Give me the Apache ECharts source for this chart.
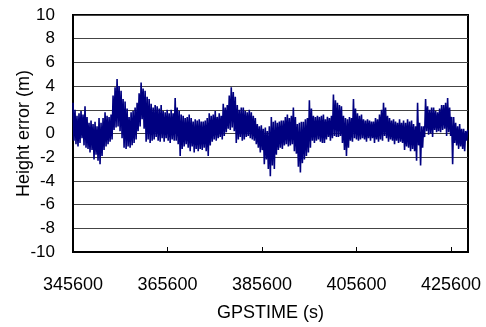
<!DOCTYPE html>
<html>
<head>
<meta charset="utf-8">
<script src="https://cdn.jsdelivr.net/npm/echarts@6/dist/echarts.min.js"></script>
<style>
  html, body { margin: 0; padding: 0; background: #fff; }
  #chart { width: 486px; height: 327px; }
</style>
</head>
<body>
<div id="chart"></div>
<script>
// height error samples (m), one every ~212 s
const startTime = 345600;
const timeStep = 212;
const heightError = [
  2.6, -0.6, 2.0, -0.9, 1.5, -1.1, 1.7, -0.8, 1.9, -0.4,
  1.6, -1.0, 2.3, -1.2, 1.4, -1.3, 0.9, -1.6, 1.1, -1.4,
  0.8, -2.2, 1.0, -1.8, 0.6, -2.3, 1.3, -2.6, 0.9, -1.9,
  1.3, -1.4, 1.8, -1.1, 1.5, -0.9, 1.4, -0.7, 1.6, -0.5,
  3.2, 0.3, 3.9, 0.5, 4.6, 0.6, 4.0, 0.2, 3.6, -0.4,
  2.9, -1.2, 2.7, -1.3, 2.1, -1.1, 1.4, -1.2, 1.8, -1.0,
  1.9, -0.8, 2.2, -0.5, 2.6, 0.2, 3.4, 0.6, 4.3, 1.2,
  3.8, 0.4, 3.6, -0.7, 3.1, -0.5, 2.9, -0.8, 2.5, -0.6,
  2.2, -0.5, 2.4, -0.3, 2.3, -0.6, 2.1, -0.7, 2.4, -0.4,
  1.9, -0.7, 1.8, -0.4, 2.0, -0.6, 1.7, -0.8, 2.0, -0.5,
  1.7, -0.6, 3.0, -0.6, 2.2, -0.9, 1.9, -1.9, 1.6, -1.3,
  1.5, -1.1, 1.3, -0.9, 1.4, -1.2, 1.6, -1.5, 1.3, -1.1,
  1.0, -1.6, 1.2, -1.3, 1.1, -1.5, 1.2, -1.3, 1.0, -1.4,
  1.0, -1.2, 1.1, -1.5, 1.3, -1.9, 1.7, -1.0, 1.5, -0.7,
  1.6, -0.5, 1.9, -0.6, 1.4, -0.4, 1.7, -0.3, 1.5, -0.5,
  2.5, -0.2, 2.2, 0.1, 2.4, 0.4, 3.2, 0.3, 3.9, 0.5,
  3.5, 0.2, 3.1, -0.8, 2.4, -0.5, 2.0, -0.3, 2.2, -0.6,
  2.2, -0.5, 1.9, -0.3, 1.8, -0.2, 2.0, -0.4, 1.8, -0.5,
  1.5, -0.6, 1.3, -0.9, 0.8, -1.2, 0.6, -1.6, 0.7, -1.4,
  0.4, -2.6, 0.5, -2.2, 0.2, -3.0, 0.6, -3.6, 1.4, -2.7,
  1.0, -3.0, 1.1, -1.8, 0.9, -1.4, 1.0, -1.2, 1.1, -1.3,
  1.1, -1.0, 1.4, -0.9, 1.6, -1.1, 1.3, -1.0, 1.5, -0.9,
  2.2, -1.5, 1.4, -1.7, 0.8, -2.8, 0.9, -3.3, 1.0, -2.5,
  1.0, -2.2, 1.2, -1.9, 1.3, -1.6, 2.8, -1.2, 2.1, -0.6,
  1.5, -0.8, 1.4, -0.6, 1.5, -0.5, 1.4, -0.7, 1.5, -0.8,
  1.6, -0.8, 1.2, -0.5, 1.4, -0.3, 1.3, -0.6, 1.5, -0.4,
  3.3, -0.2, 2.8, -0.3, 2.6, -0.3, 2.4, -0.2, 2.3, -0.8,
  1.5, -1.4, 1.3, -1.9, 1.2, -1.2, 1.4, -0.6, 1.3, -0.7,
  2.9, -0.4, 2.1, -0.5, 1.7, -0.6, 1.5, -0.5, 1.6, -0.4,
  1.2, -0.5, 1.1, -0.7, 1.2, -0.4, 1.1, -0.6, 1.0, -0.4,
  1.0, -0.8, 1.3, -0.5, 1.2, -0.7, 1.6, -0.5, 2.0, -0.6,
  2.6, -0.2, 2.2, -0.4, 1.5, -0.7, 1.3, -0.5, 1.1, -0.6,
  1.2, -0.9, 1.0, -0.6, 0.9, -0.8, 1.2, -0.7, 0.9, -0.8,
  1.1, -1.4, 0.9, -1.1, 1.2, -1.2, 1.0, -1.5, 1.1, -1.3,
  0.8, -1.5, 0.6, -2.3, 2.6, -1.0, 0.9, -2.7, 0.6, -1.2,
  0.6, -0.3, 2.9, 0.2, 2.3, -0.1, 2.0, 0.0, 2.2, -0.3,
  2.2, 0.3, 1.9, 0.1, 1.8, 0.2, 2.1, 0.1, 2.4, 0.3,
  2.4, 0.4, 2.6, -0.2, 3.0, 0.1, 2.2, -0.2, 1.4, -2.6,
  1.4, -0.8, 0.9, -1.0, 0.6, -1.3, 0.8, -1.1, 0.4, -1.3,
  0.4, -1.5, 0.2, -0.6, 0.3
];

const xLabelValues = [345600, 365600, 385600, 405600, 425600];
const xTickValues = [365600, 385600, 405600, 425600];
const yMin = -10;
const yMax = 10;
const yStep = 2;
const xMax = 429200;

const points = heightError.map((v, i) => [startTime + i * timeStep, v]);

const chart = echarts.init(document.getElementById('chart'));
const font = 'Liberation Sans, Arial, sans-serif';

chart.setOption({
  animation: false,
  grid: {
    left: 73, right: 18, top: 15, bottom: 75,
    outerBoundsMode: 'none',
    containLabel: false,
    show: true, borderColor: '#000', borderWidth: 2
  },
  xAxis: {
    type: 'value',
    min: startTime,
    max: xMax,
    name: 'GPSTIME (s)',
    nameLocation: 'middle',
    nameGap: 52,
    nameTextStyle: { fontFamily: font, fontSize: 18, color: '#000' },
    axisLine: { show: true, onZero: false, lineStyle: { color: '#000', width: 2 } },
    axisTick: {
      show: true, inside: true, length: 5,
      customValues: xTickValues,
      lineStyle: { color: '#000', width: 1 }
    },
    axisLabel: {
      customValues: xLabelValues,
      formatter: v => String(v),
      margin: 24,
      fontFamily: font, fontSize: 18, color: '#000'
    },
    splitLine: { show: false }
  },
  yAxis: {
    type: 'value',
    min: yMin,
    max: yMax,
    interval: yStep,
    name: 'Height error (m)',
    nameLocation: 'middle',
    nameGap: 40,
    nameMoveOverlap: false,
    nameTextStyle: { fontFamily: font, fontSize: 18, color: '#000' },
    axisLine: { show: true, lineStyle: { color: '#000', width: 2 } },
    axisTick: { show: false },
    axisLabel: {
      margin: 18,
      fontFamily: font, fontSize: 17, color: '#000'
    },
    splitLine: { show: true, lineStyle: { color: '#444', width: 1 } }
  },
  series: [{
    type: 'line',
    data: points,
    showSymbol: false,
    lineStyle: { color: '#000080', width: 1.6 },
    z: 3
  }]
});
</script>
</body>
</html>
